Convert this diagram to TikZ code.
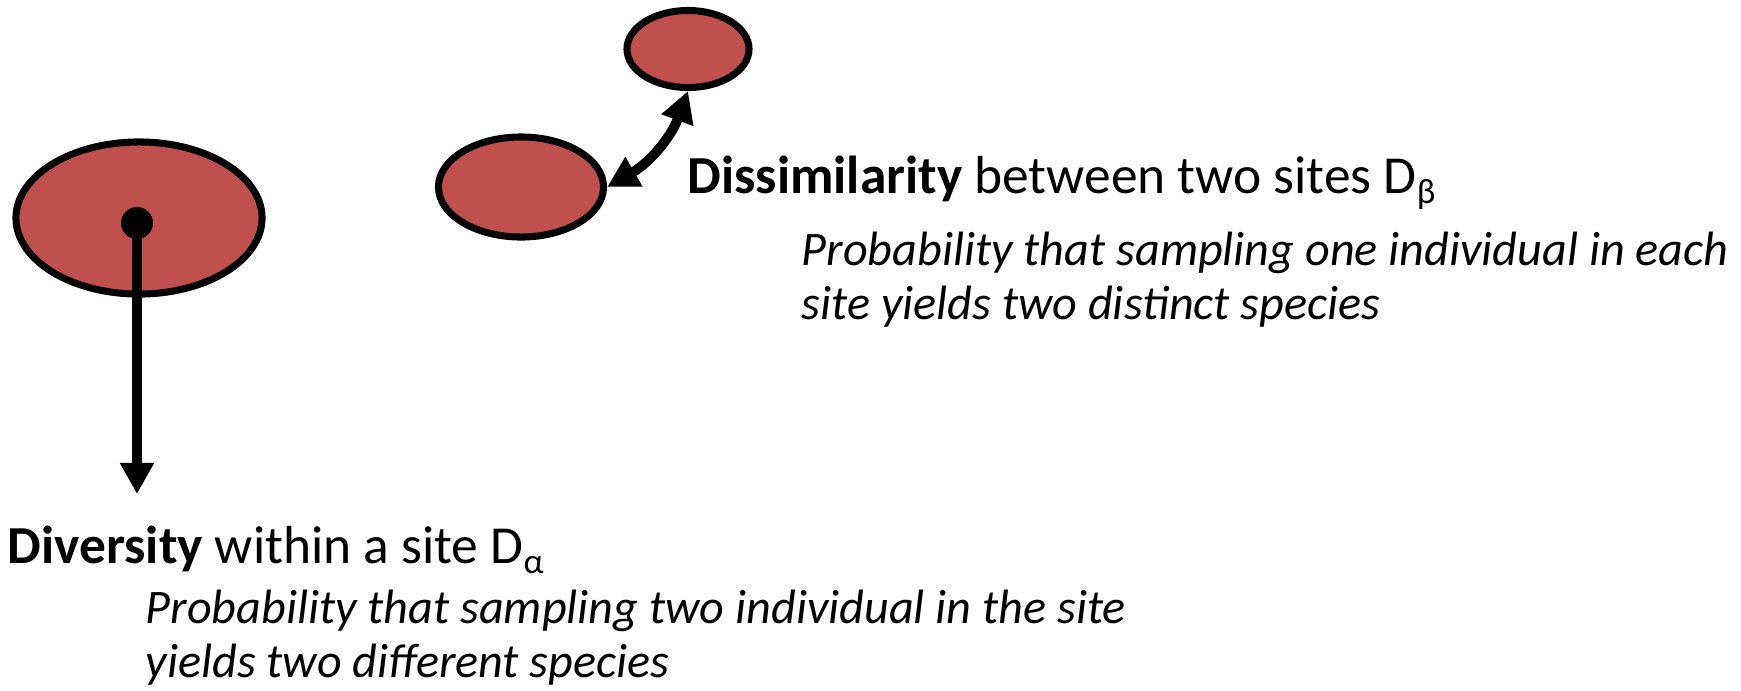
\documentclass[tikz,border=0pt]{standalone}
\usepackage{fontspec}
\setmainfont{Carlito}
\usepackage{xcolor}
\usepackage{tikz}
\usetikzlibrary{shapes,arrows,positioning,calc,arrows.meta,shapes.geometric}
\definecolor{siteRed}{RGB}{192,80,77}
\newcommand{\siteSub}[1]{\raisebox{-3pt}{\fontsize{10}{10}\selectfont #1}}
\tikzset{
  siteEllipse/.style={
    ellipse,
    draw=black,
    line width=2pt,
    fill=siteRed,
    inner sep=0pt
  },
  arrowLine/.style={
    -{Triangle[length=3.1mm,width=3.2mm]},
    line width=2.8pt
  },
  headText/.style={
    anchor=base west,
    inner sep=0pt,
    font=\fontsize{15.2}{18}\selectfont
  },
  noteText/.style={
    anchor=base west,
    inner sep=0pt,
    align=left,
    font=\fontsize{13.7}{15.3}\selectfont\itshape
  }
}

\begin{document}
\begin{tikzpicture}[x=0.01cm,y=-0.01cm]
        \useasboundingbox (0,0) rectangle (1741,690);

        \node[siteEllipse, minimum width=2.46cm, minimum height=1.52cm] (siteA) at (139,218) {};
        \node[siteEllipse, minimum width=1.65cm, minimum height=1.00cm] (siteB) at (521,187) {};
        \node[siteEllipse, minimum width=1.22cm, minimum height=0.77cm] (siteC) at (688,49) {};
        \node[circle, fill=black, minimum size=0.32cm, inner sep=0pt] (dot) at (137,223) {};
        \coordinate (alphaEnd) at (137,494);

        \node[headText] (betaHead) at (687,193) {\textbf{Dissimilarity} between two sites D\siteSub{β}};
        \node[noteText] (betaNote1) at (801,265) {Probability that sampling one individual in each};
        \node[noteText] (betaNote2) at (801,319) {site yields two distinct species};
        \node[headText] (alphaHead) at (7,563) {\textbf{Diversity} within a site D\siteSub{α}};
        \node[noteText] (alphaNote1) at (145,623) {Probability that sampling two individual in the site};
        \node[noteText] (alphaNote2) at (145,677) {yields two different species};

        \draw[arrowLine] (dot.center) -- (alphaEnd);
        \draw[arrowLine, {Triangle[length=3.1mm,width=3.2mm]}-{Triangle[length=3.1mm,width=3.2mm]}] (siteB.east) to[bend right=20] (siteC.south);
    \end{tikzpicture}
\end{document}
